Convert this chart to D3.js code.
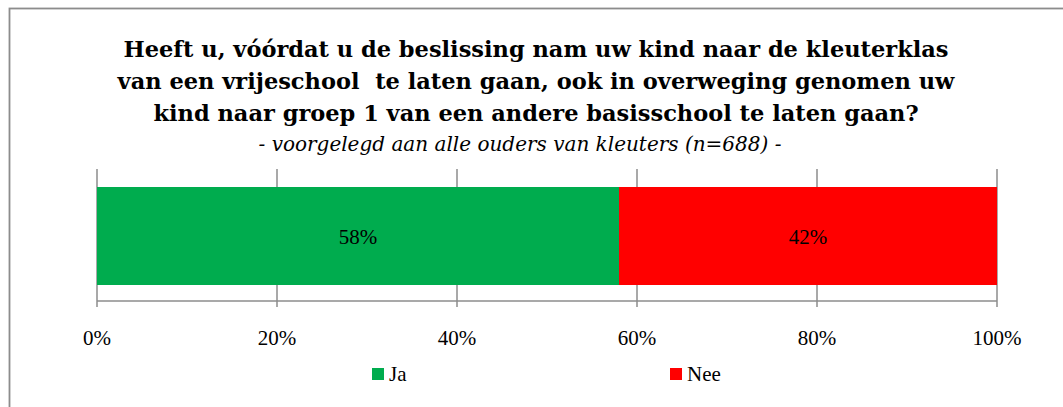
<!DOCTYPE html>
<html>
<head>
<meta charset="utf-8">
<script src="https://cdn.jsdelivr.net/npm/d3@7"></script>
<style>
  body { margin: 0; background: #fff; }
  svg text { font-family: "Liberation Serif", "DejaVu Serif", serif; fill: #000; }
  svg text.title, svg text.subtitle { font-family: "DejaVu Serif", serif; }
</style>
</head>
<body>
<script>
// chart data
let categories = ['Ja', 'Nee'];
let values = [58, 42];
let colors = ['#00ac4e', '#ff0000'];
let ticks = [0, 20, 40, 60, 80, 100];
let titleLines = [
    'Heeft u, vóórdat u de beslissing nam uw kind naar de kleuterklas',
    'van een vrijeschool  te laten gaan, ook in overweging genomen uw',
    'kind naar groep 1 van een andere basisschool te laten gaan?'
];
let subtitle = '- voorgelegd aan alle ouders van kleuters (n=688) -';

let width = 1063;
let height = 407;

let svg = d3.select('body').append('svg')
    .attr('width', width)
    .attr('height', height);

// chart border
svg.append('rect')
    .attr('x', 9.5).attr('y', 8.5)
    .attr('width', 1070).attr('height', 420)
    .attr('fill', 'none')
    .attr('stroke', '#8c8c8c')
    .attr('stroke-width', 1.8);

// title
let titleX = 536;
svg.selectAll('.title')
    .data(titleLines)
    .enter().append('text')
    .attr('class', 'title')
    .attr('x', titleX)
    .attr('y', (d, i) => 57 + i * 32)
    .attr('text-anchor', 'middle')
    .style('font-size', '22.5px')
    .style('font-weight', 'bold')
    .style('white-space', 'pre')
    .text(d => d);

svg.append('text')
    .attr('class', 'subtitle')
    .attr('x', 520)
    .attr('y', 151)
    .attr('text-anchor', 'middle')
    .style('font-size', '20px')
    .style('font-style', 'italic')
    .text(subtitle);

// scales
let x = d3.scaleLinear().domain([0, 100]).range([97, 997]);

// gridlines
svg.selectAll('.grid')
    .data(ticks)
    .enter().append('line')
    .attr('x1', d => x(d)).attr('x2', d => x(d))
    .attr('y1', 169).attr('y2', 307)
    .attr('stroke', '#8c8c8c')
    .attr('stroke-width', 1.5);

// stacked bar
let stack = [];
let acc = 0;
values.forEach((v, i) => {
    stack.push({ name: categories[i], start: acc, end: acc + v, value: v, color: colors[i] });
    acc += v;
});

svg.selectAll('.bar')
    .data(stack)
    .enter().append('rect')
    .attr('x', d => x(d.start))
    .attr('y', 187)
    .attr('width', d => x(d.end) - x(d.start))
    .attr('height', 98)
    .attr('fill', d => d.color);

svg.selectAll('.label')
    .data(stack)
    .enter().append('text')
    .attr('x', d => x((d.start + d.end) / 2))
    .attr('y', 244)
    .attr('text-anchor', 'middle')
    .style('font-size', '21px')
    .text(d => d.value + '%');

// axis line
svg.append('line')
    .attr('x1', x(0)).attr('x2', x(100))
    .attr('y1', 301).attr('y2', 301)
    .attr('stroke', '#8c8c8c')
    .attr('stroke-width', 1.5);

// tick labels
svg.selectAll('.tick')
    .data(ticks)
    .enter().append('text')
    .attr('x', d => x(d))
    .attr('y', 345)
    .attr('text-anchor', 'middle')
    .style('font-size', '21px')
    .text(d => d + '%');

// legend
let legendX = [372, 670];
let legend = svg.selectAll('.legend')
    .data(categories)
    .enter().append('g')
    .attr('transform', (d, i) => 'translate(' + legendX[i] + ', 368)');

legend.append('rect')
    .attr('width', 12).attr('height', 12)
    .attr('fill', (d, i) => colors[i]);

legend.append('text')
    .attr('x', 17)
    .attr('y', 13)
    .style('font-size', '21px')
    .text(d => d);
</script>
</body>
</html>
